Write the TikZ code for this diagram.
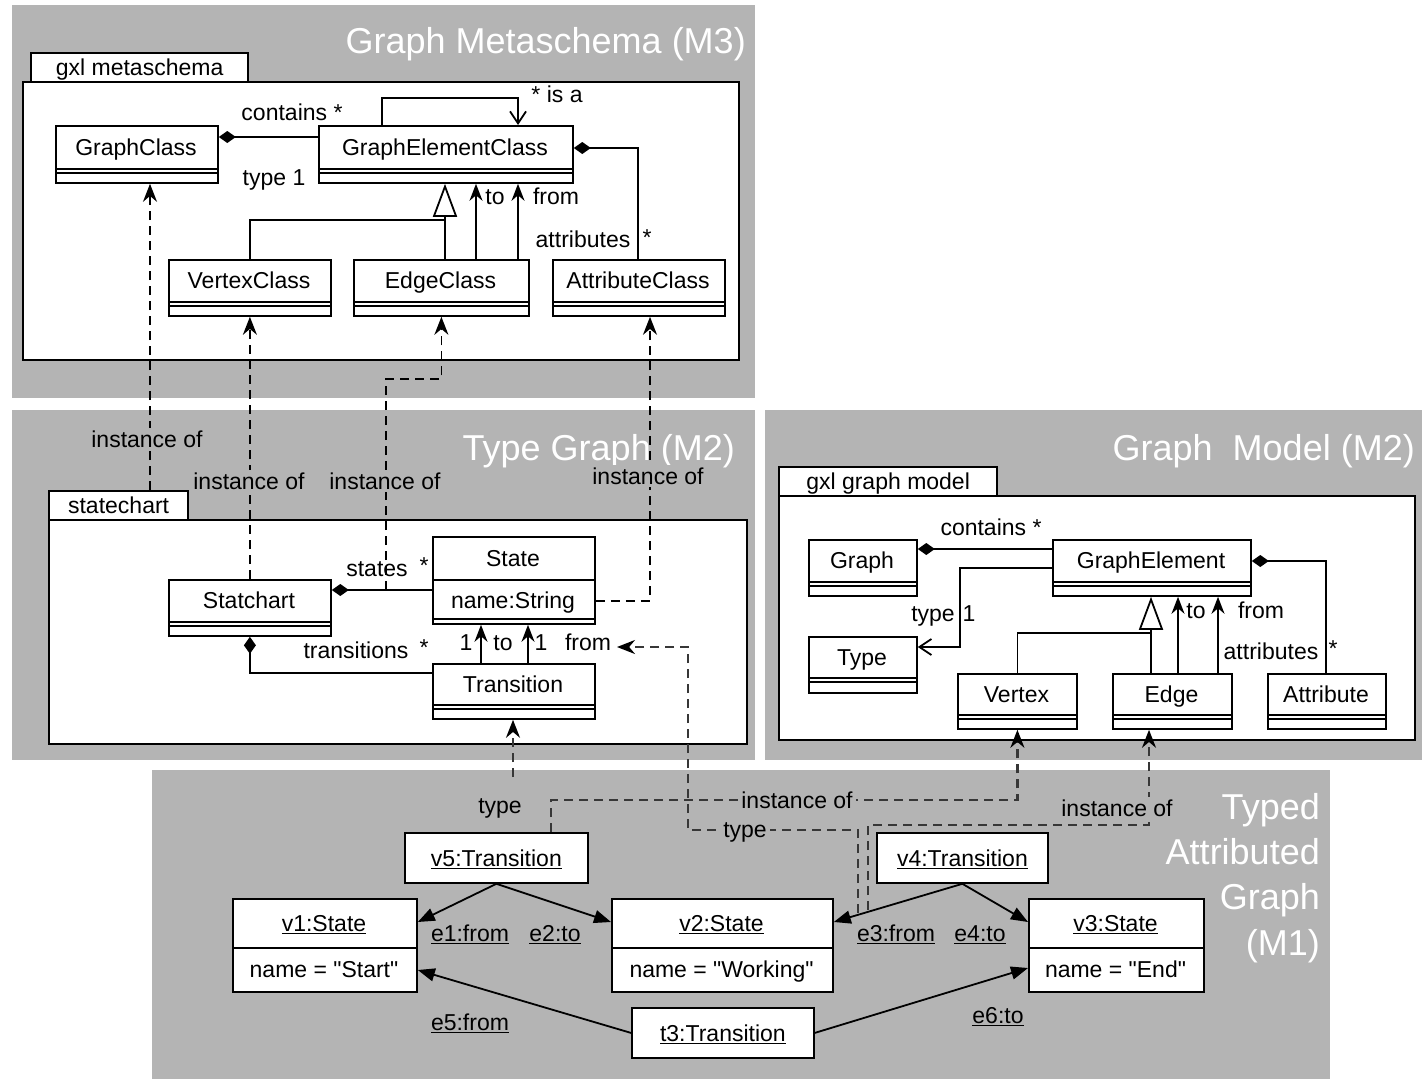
\documentclass[tikz,border=0pt]{standalone}
\usepackage{fontspec}
\setmainfont{Liberation Sans}
\newfontfamily\qfont{Liberation Sans}[Ligatures=TeXOff]
\usetikzlibrary{arrows.meta}
\definecolor{panel}{RGB}{180,180,180}
\definecolor{dgray}{RGB}{55,55,55}
\newcommand{\dq}{{\qfont"}}
\newcommand{\umlcls}[7]{%
  \node[cbox, anchor=north west, minimum width={(#4-#2)*1pt}, minimum height={(#5-#3)*1pt}] (#1) at (#2,#3) {};
  \draw[cline] (#2,#6) -- (#4,#6) (#2,#6+4) -- (#4,#6+4);
  \node[txt] (#1-t) at ({(#2+#4)/2},{(#3+#6)/2}) {#7};}
\newcommand{\umlobj}[5]{%
  \node[cbox, anchor=north west, minimum width={(#3-#2)*1pt}, minimum height=93pt] (#1) at (#2,898) {};
  \draw[cline] (#2,948) -- (#3,948);
  \node[txt] (#1-t) at ({(#2+#3)/2},923) {\underline{#4}};
  \node[txt] (#1-a) at ({(#2+#3)/2},969.5) {#5};}
\begin{document}
\begin{tikzpicture}[x=1pt,y=-1pt,
  cbox/.style={draw, fill=white, line width=1.8pt, inner sep=0pt},
  pkg/.style={draw, fill=white, line width=2.2pt, inner sep=0pt},
  cline/.style={line width=1.6pt},
  txt/.style={font=\fontsize{23}{27}\selectfont, inner sep=0pt, text height=16.5pt, text depth=0pt},
  flbl/.style={txt, fill=panel, inner sep=3pt},
  ptitle/.style={font=\fontsize{36}{43}\selectfont, text=white, inner sep=0pt, text height=26pt, text depth=0pt, anchor=east},
  assoc/.style={line width=1.8pt},
  diam/.style={assoc, {Diamond[length=17pt,width=12pt]}-},
  nav/.style={assoc, -{Stealth[length=17pt,width=13pt]}},
  inh/.style={assoc, -{Triangle[open, length=33pt, width=24pt, fill=white]}},
  barb/.style={assoc, -{Straight Barb[length=12pt, width=16pt]}},
  inst/.style={line width=1.8pt, dash pattern=on 9pt off 6pt, -{Stealth[length=18pt,width=14pt,color=black]}},
  inst2/.style={inst, draw=dgray, line width=2.2pt},
  tedge/.style={line width=1.8pt, -{Triangle[length=17pt,width=13pt]}},
]
\useasboundingbox (0,0) rectangle (1422,1079);
% backgrounds
\fill[white] (0,0) rectangle (1422,1079);
\fill[panel] (12,5) rectangle (755,398);
\fill[panel] (12,410) rectangle (755,760);
\fill[panel] (765,410) rectangle (1422,760);
\fill[panel] (152,770) rectangle (1330,1079);
% titles
\node[ptitle] (t-m3) at (746,40) {Graph Metaschema (M3)};
\node[ptitle] (t-tg) at (735,447) {Type Graph (M2)};
\node[ptitle] (t-gm) at (1415,447) {Graph\ \ Model (M2)};
\node[ptitle] (t-m1a) at (1320,806) {Typed};
\node[ptitle] (t-m1b) at (1320,851) {Attributed};
\node[ptitle] (t-m1c) at (1320,896) {Graph};
\node[ptitle] (t-m1d) at (1320,942) {(M1)};
% packages
\node[pkg, txt, anchor=north west, minimum width=217pt, minimum height=29pt] (m3tab) at (30,52) {gxl metaschema};
\node[pkg, anchor=north west, minimum width=716pt, minimum height=278pt] (m3pkg) at (22,81) {};
\node[pkg, txt, anchor=north west, minimum width=139pt, minimum height=29pt] (sctab) at (48,490) {statechart};
\node[pkg, anchor=north west, minimum width=698pt, minimum height=224pt] (tgpkg) at (48,519) {};
\node[pkg, txt, anchor=north west, minimum width=218pt, minimum height=29pt] (gmtab) at (778,466) {gxl graph model};
\node[pkg, anchor=north west, minimum width=636pt, minimum height=244pt] (gmpkg) at (778,495) {};
% M3 classes
\umlcls{gc}{55}{125}{217}{182}{169}{GraphClass}
\umlcls{gec}{318}{125}{572}{182}{169}{GraphElementClass}
\umlcls{vc}{168}{259}{330}{315}{302}{VertexClass}
\umlcls{ec}{353}{259}{528}{315}{302}{EdgeClass}
\umlcls{ac}{552}{259}{724}{315}{302}{AttributeClass}
% TG classes
\umlcls{sc}{168}{579}{330}{635}{622}{Statchart}
\node[cbox, anchor=north west, minimum width=162pt, minimum height=87pt] (st) at (432,536) {};
\draw[cline] (432,580) -- (594,580) (432,619) -- (594,619);
\node[txt] (st-t) at (513,558) {State};
\node[txt] (st-a) at (513,600) {name:String};
\umlcls{tr}{432}{663}{594}{718}{705}{Transition}
% GM classes
\umlcls{g}{808}{539}{916}{595}{582}{Graph}
\umlcls{ge}{1052}{539}{1250}{595}{582}{GraphElement}
\umlcls{ty}{808}{636}{916}{692}{678}{Type}
\umlcls{vx}{957}{673}{1076}{728}{715}{Vertex}
\umlcls{ed}{1112}{673}{1231}{728}{715}{Edge}
\umlcls{atr}{1267}{673}{1385}{728}{715}{Attribute}
% M1 objects
\node[cbox, txt, anchor=north west, minimum width=183pt, minimum height=50pt] (v5) at (404,832) {\underline{v5:Transition}};
\node[cbox, txt, anchor=north west, minimum width=171pt, minimum height=50pt] (v4) at (876,832) {\underline{v4:Transition}};
\node[cbox, txt, anchor=north west, minimum width=182pt, minimum height=50pt] (t3) at (631,1007) {\underline{t3:Transition}};
\umlobj{v1}{232}{416}{v1:State}{name = \dq Start\dq}
\umlobj{v2}{611}{832}{v2:State}{name = \dq Working\dq}
\umlobj{v3}{1028}{1203}{v3:State}{name = \dq End\dq}
% M3 connectors
\draw[diam] (gc.east |- 0,137) -- (gec.west |- 0,137);
\node[txt] (l-m3-contains) at (292,112) {contains *};
\node[txt] (l-m3-type) at (274,177) {type 1};
\draw[barb] (gec.north -| 382,0) -- (382,98) -- (518,98) -- (gec.north -| 518,0);
\node[txt] (l-isa) at (557,94) {* is a};
\coordinate (m3-inh) at (445,220);
\draw[assoc] (vc.north) |- (m3-inh);
\draw[assoc] (ec.north -| m3-inh) -- (m3-inh);
\draw[inh] (m3-inh) -- (gec.south -| m3-inh);
\draw[nav] (ec.north -| 476,0) -- (gec.south -| 476,0);
\draw[nav] (ec.north -| 518,0) -- (gec.south -| 518,0);
\node[txt] (l-m3-to) at (495,196) {to};
\node[txt] (l-m3-from) at (556,196) {from};
\draw[diam] (gec.east |- 0,148) -| (ac.north -| 638,0);
\node[txt] (l-m3-attr) at (583,239) {attributes};
\node[txt] (l-m3-attrs) at (647,237) {*};
% TG connectors
\coordinate (states-pt) at (386,590);
\draw[diam] (sc.east |- 0,590) -- (st.west |- 0,590);
\node[txt] (l-states) at (377,568) {states};
\node[txt] (l-states-s) at (424,565) {*};
\draw[diam] (sc.south) |- (tr.west |- 0,673);
\node[txt] (l-trans) at (356,650) {transitions};
\node[txt] (l-trans-s) at (424,647) {*};
\draw[nav] (tr.north -| 481,0) -- (st.south -| 481,0);
\draw[nav] (tr.north -| 528,0) -- (st.south -| 528,0);
\node[txt] (l-1a) at (466,642) {1};
\node[txt] (l-to) at (503,642) {to};
\node[txt] (l-1b) at (541,642) {1};
\node[txt] (tg-from) at (588,642) {from};
% GM connectors
\draw[diam] (g.east |- 0,549) -- (ge.west |- 0,549);
\node[txt] (l-gm-contains) at (991,527) {contains *};
\draw[barb] (ge.west |- 0,568) -| (960,647) -- (ty.east |- 0,647);
\node[txt] (l-gm-type) at (933,613) {type};
\node[txt] (l-gm-1) at (969,613) {1};
\coordinate (gm-inh) at (1151,633);
\draw[assoc] (vx.north) |- (gm-inh);
\draw[assoc] (ed.north -| gm-inh) -- (gm-inh);
\draw[inh] (gm-inh) -- (ge.south -| gm-inh);
\draw[nav] (ed.north -| 1178,0) -- (ge.south -| 1178,0);
\draw[nav] (ed.north -| 1218,0) -- (ge.south -| 1218,0);
\node[txt] (l-gm-to) at (1196,610) {to};
\node[txt] (l-gm-from) at (1261,610) {from};
\draw[diam] (ge.east |- 0,561) -| (atr.north -| 1326,0);
\node[txt] (l-gm-attr) at (1271,651) {attributes};
\node[txt] (l-gm-attrs) at (1333,648) {*};
% instance-of M2 -> M3
\draw[inst] (sctab.north -| 150,0) -- (gc.south -| 150,0);
\node[flbl] (l-i1) at (147,439) {instance of};
\draw[inst] (sc.north) -- (vc.south);
\node[flbl] (l-i2) at (249,481) {instance of};
\draw[inst] (states-pt) |- (ec.south |- 0,379) -- (ec.south);
\node[flbl] (l-i3) at (385,481) {instance of};
\draw[inst] (st.east |- 0,601) -| (ac.south -| 650,0);
\node[flbl] (l-i4) at (648,476) {instance of};
% M1 solid edges
\draw[tedge] (v5.south) -- (v1.east |- 0,922);
\draw[tedge] (v5.south) -- (v2.west |- 0,922);
\draw[tedge] (v4.south) -- (v2.east |- 0,922);
\draw[tedge] (v4.south) -- (v3.west |- 0,922);
\draw[tedge] (t3.west) -- (v1.east |- 0,970);
\draw[tedge] (t3.east) -- (v3.west |- 0,968);
\node[txt] (l-e1) at (470,933) {\underline{e1:from}};
\node[txt] (l-e2) at (555,933) {\underline{e2:to}};
\node[txt] (l-e3) at (896,933) {\underline{e3:from}};
\node[txt] (l-e4) at (980,933) {\underline{e4:to}};
\node[txt] (l-e5) at (470,1022) {\underline{e5:from}};
\node[txt] (l-e6) at (998,1015) {\underline{e6:to}};
% M1 typing / instance-of
\coordinate (v5-type) at (513,777);
\draw[inst2] (v5-type) -- (tr.south -| 513,0);
\node[txt] (l-type1) at (500,805) {type};
\draw[inst2] (v5.north -| 551,0) |- (vx.south |- 0,800) -- (vx.south);
\node[flbl] (l-inst5) at (797,800) {instance of};
\coordinate (e3a) at (858,913);
\coordinate (e3b) at (868,910);
\coordinate (from-tip) at (617,647);
\draw[inst2] (e3a) |- (688,830) |- (from-tip);
\node[flbl] (l-type2) at (745,829) {type};
\draw[inst2] (e3b) |- (1149,825) -- (ed.south -| 1149,0);
\node[flbl] (l-inst6) at (1117,808) {instance of};
\end{tikzpicture}
\end{document}
